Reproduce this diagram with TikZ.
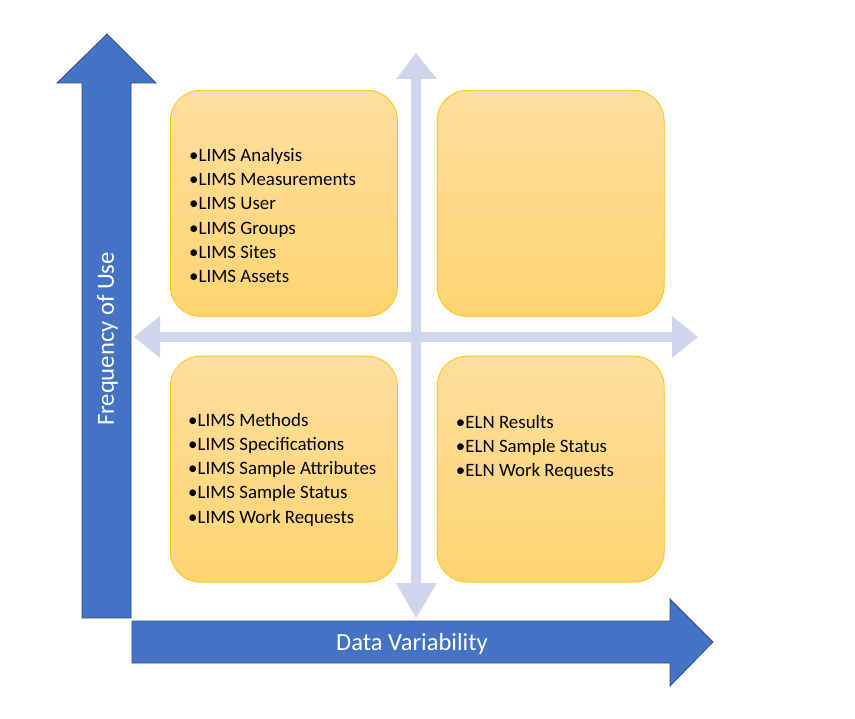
\documentclass[tikz,border=0pt]{standalone}
\usepackage{fontspec}
\setmainfont{Carlito}
\usepackage{xcolor}
\usepackage{tikz}
\usetikzlibrary{positioning,calc}

\definecolor{axisblue}{HTML}{4472C4}
\definecolor{axisedge}{HTML}{2F528F}
\definecolor{crossgrey}{HTML}{CFD5EA}
\definecolor{boxedge}{HTML}{FFC000}
\definecolor{boxtop}{HTML}{FFDE9F}
\definecolor{boxbottom}{HTML}{FFD470}

\tikzset{
  quad/.style={rectangle, draw=boxedge, line width=0.75pt, rounded corners=30pt,
    top color=boxtop, bottom color=boxbottom, minimum width=227pt, minimum height=226pt, inner sep=0pt},
  items/.style={anchor=north west, align=left, inner sep=0pt, font=\fontsize{18.9}{24.3}\selectfont},
  axislabel/.style={text=white, inner sep=0pt, font=\fontsize{24.6}{29}\selectfont}
}

\begin{document}
\begin{tikzpicture}[x=1pt, y=-1pt]
\useasboundingbox (0,0) rectangle (855,719);

% light cross
\fill[crossgrey] (411,79) -- (396,79) -- (416,53) -- (437,79) -- (421,79) -- (421,583)
  -- (437,583) -- (416,618) -- (396,583) -- (411,583) -- cycle;
\fill[crossgrey] (160,332) -- (160,316) -- (134,337) -- (160,358) -- (160,342) -- (672,342)
  -- (672,358) -- (698,337) -- (672,316) -- (672,332) -- cycle;

% axes
\filldraw[fill=axisblue, draw=axisedge, line width=0.8pt] (82,618) -- (82,83) -- (57,83) -- (107,34)
  -- (156,83) -- (131,83) -- (131,618) -- cycle;
\filldraw[fill=axisblue, draw=axisedge, line width=0.8pt] (132,621) -- (670,621) -- (670,599) -- (713,642)
  -- (670,686) -- (670,663) -- (132,663) -- cycle;
\node[axislabel] (dv) at (412,643.5) {Data Variability};
\node[axislabel, rotate=90] (fu) at (107.5,339) {Frequency of Use};

% quadrants
\node[quad, anchor=north west] (tl) at (170,90) {};
\node[quad, right=39pt of tl] (tr) {};
\node[quad, below=39pt of tl] (bl) {};
\node[quad, below=39pt of tr] (br) {};

\node[items] (tlitems) at ($(tl.north west)+(19,58)$) {•LIMS Analysis\\•LIMS Measurements\\•LIMS User\\•LIMS Groups\\•LIMS Sites\\•LIMS Assets};
\node[items] (blitems) at ($(bl.north west)+(18,57)$) {•LIMS Methods\\•LIMS Specifications\\•LIMS Sample Attributes\\•LIMS Sample Status\\•LIMS Work Requests};
\node[items] (britems) at ($(br.north west)+(19,59)$) {•ELN Results\\•ELN Sample Status\\•ELN Work Requests};
\end{tikzpicture}
\end{document}
